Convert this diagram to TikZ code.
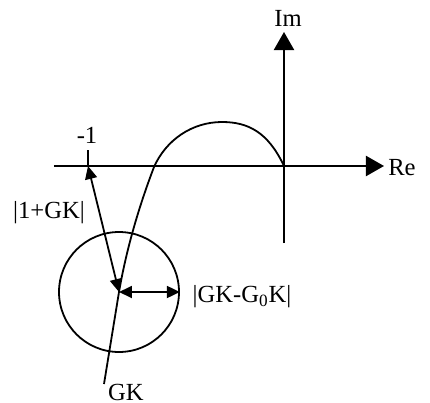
\documentclass[tikz,border=0pt]{standalone}
\usepackage{fontspec}
\setmainfont{Liberation Serif}
\usetikzlibrary{arrows.meta}

\begin{document}
\begin{tikzpicture}[
    x=0.5pt, y=-0.5pt,
    axis/.style   = {line width=1pt, -{Triangle[length=9pt, width=10pt]}},
    curve/.style  = {line width=0.9pt},
    dist/.style   = {line width=0.9pt, {Triangle[length=6.5pt, width=6pt]}-{Triangle[length=6.5pt, width=6pt]}},
    lbl/.style    = {font=\fontsize{12.3}{14}\selectfont, inner sep=0pt},
]
\useasboundingbox (0,0) rectangle (430,403);

% ============================================================
%  AXES
% ============================================================
\coordinate (O)    at (284,166);
\coordinate (ReL)  at (54,166);
\coordinate (ReR)  at (384,166);
\coordinate (ImB)  at (284,243);
\coordinate (ImT)  at (284,32);
\draw[axis] (ReL) -- (ReR);
\draw[axis] (ImB) -- (ImT);
\node[lbl] (Im) at (288,18)  {Im};
\node[lbl] (Re) at (402,168) {Re};

% critical point -1
\coordinate (M1)  at (88,166);
\coordinate (M1t) at (88,150);
\draw[line width=1pt] (M1) -- (M1t);
\node[lbl] (m1lbl) at (87,135) {-1};

% ============================================================
%  NYQUIST CURVE  GK
% ============================================================
\coordinate (C)  at (119,292);
\coordinate (Pk) at (222,122);
\coordinate (X1) at (154,167);
\coordinate (E)  at (104,384);
\draw[curve] (O) .. controls (268,132) and (248,122) .. (Pk)
                 .. controls (192,122) and (166,140) .. (X1)
                 .. controls (143,196) and (128,240) .. (C)
                 -- (E);
\node[lbl] (GK) at (126,392) {GK};

% uncertainty disc
\node[draw, circle, line width=0.9pt, inner sep=0pt, minimum size=60pt] (disc) at (C) {};

% ============================================================
%  DISTANCES
% ============================================================
\draw[dist] (M1) -- (C);
\draw[dist] (C) -- (disc.east);
\node[lbl] (d1)  at (49,213)  {|1+GK|};
\node[lbl] (d2)  at (242,297) {|GK-G\textsubscript{0}K|};

\end{tikzpicture}
\end{document}
